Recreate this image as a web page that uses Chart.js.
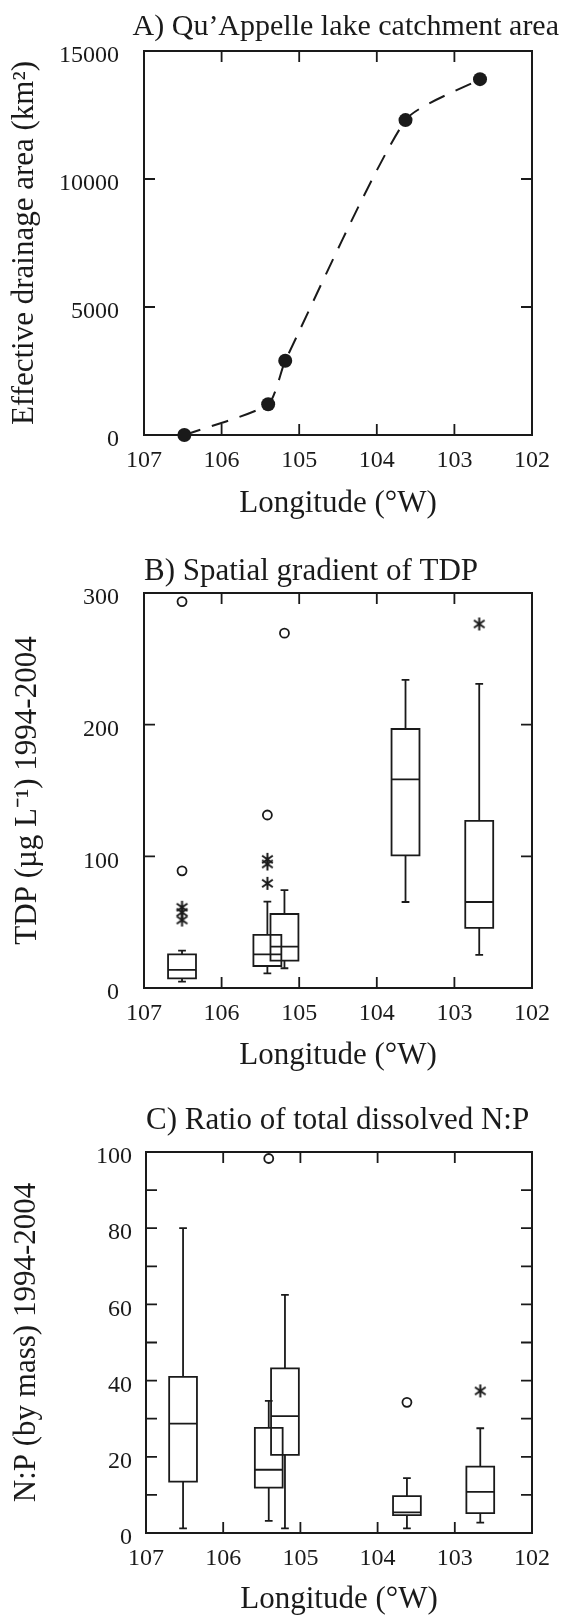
<!DOCTYPE html>
<html lang="en">
<head>
<meta charset="utf-8">
<title>Qu'Appelle lakes: catchment area, TDP and N:P</title>
<script src="https://cdn.jsdelivr.net/npm/chart.js@4.4.1/dist/chart.umd.min.js"></script>
<style>
  html, body { margin: 0; padding: 0; background: #fff; }
  #lienzo { position: relative; width: 561px; height: 1618px; overflow: hidden; }
  canvas { position: absolute; left: 0; }
</style>
</head>
<body>
<div id="lienzo">
  <canvas id="grafico-a" width="561" height="525" style="top:0"></canvas>
  <canvas id="grafico-b" width="561" height="560" style="top:525px"></canvas>
  <canvas id="grafico-c" width="561" height="533" style="top:1085px"></canvas>
</div>
<script>
// Datos (longitud en grados oeste)

// A) Área de drenaje efectiva por lago
const longitudA = [106.48, 105.40, 105.18, 103.63, 102.67];
const areaA = [0, 1200, 2900, 12300, 13900];

// B) TDP 1994-2004, una caja por lago
const longitudB = [106.51, 105.41, 105.19, 103.63, 102.68];
const tdpMin = [4.8, 11.1, 15.0, 65.3, 25.2];
const tdpQ1 = [7.3, 16.7, 20.8, 100.8, 45.7];
const tdpMediana = [13.7, 25.6, 31.4, 158.4, 65.3];
const tdpQ3 = [25.6, 40.3, 56.2, 196.7, 127.0];
const tdpMax = [28.4, 65.6, 74.4, 234.0, 231.0];
// valores atípicos lejanos (círculos) y cercanos (asteriscos)
const tdpLejanosX = [106.51, 106.51, 105.41, 105.19];
const tdpLejanosY = [293.5, 89, 131.4, 269.5];
const tdpCercanosX = [106.51, 106.51, 106.51, 105.41, 105.41, 105.41, 102.68];
const tdpCercanosY = [61.3, 57.5, 51.6, 97.7, 94.2, 79.5, 276.5];

// C) Razón N:P (por masa) 1994-2004
const longitudC = [106.52, 105.41, 105.20, 103.62, 102.67];
const npMin = [1.2, 3.2, 1.2, 1.2, 2.7];
const npQ1 = [13.5, 11.9, 20.5, 4.7, 5.2];
const npMediana = [28.7, 16.6, 30.7, 5.4, 10.8];
const npQ3 = [41.0, 27.6, 43.2, 9.7, 17.4];
const npMax = [80.0, 34.7, 62.5, 14.4, 27.5];
const npLejanosX = [105.41, 103.62];
const npLejanosY = [98.3, 34.3];
const npCercanosX = [102.67];
const npCercanosY = [37.3];

// Etiquetas de los ejes
const ticksLongitud = [107, 106, 105, 104, 103, 102];
const titulos = [
    "A) Qu\u2019Appelle lake catchment area",
    'B) Spatial gradient of TDP',
    'C) Ratio of total dissolved N:P'
];
const titulosY = [
    'Effective drainage area (km\u00B2)',
    'TDP (\u00B5g L\u207B\u00B9) 1994-2004',
    'N:P (by mass) 1994-2004'
];
const tituloX = 'Longitude (\u00B0W)';

const TINTA = '#1a1a1a';
const FUENTE = "'Liberation Serif', 'Times New Roman', serif";
const LARGO_MARCA = 11;

// Asterisco de seis brazos para los atípicos cercanos
function crearAsterisco(tam) {
    const c = document.createElement('canvas');
    c.width = tam;
    c.height = tam;
    const g = c.getContext('2d');
    const m = tam / 2;
    const r = tam / 2 - 1;
    g.strokeStyle = TINTA;
    g.lineWidth = 2;
    g.beginPath();
    [90, 35, 145].forEach(function(grados) {
        const t = grados * Math.PI / 180;
        g.moveTo(m + r * Math.cos(t), m - r * Math.sin(t));
        g.lineTo(m - r * Math.cos(t), m + r * Math.sin(t));
    });
    g.stroke();
    return c;
}

// Marco del gráfico con marcas hacia adentro en los cuatro lados
const marcoPlugin = {
    id: 'marco',
    afterDraw(chart) {
        const { ctx, chartArea: a, scales } = chart;
        ctx.save();
        ctx.strokeStyle = TINTA;
        ctx.lineWidth = 2;
        ctx.strokeRect(a.left, a.top, a.right - a.left, a.bottom - a.top);
        ctx.lineWidth = 1.8;
        ctx.beginPath();
        scales.x.ticks.forEach(function(t) {
            const px = scales.x.getPixelForValue(t.value);
            if (Math.abs(px - a.left) < 2 || Math.abs(px - a.right) < 2) return;
            ctx.moveTo(px, a.bottom);
            ctx.lineTo(px, a.bottom - LARGO_MARCA);
            ctx.moveTo(px, a.top);
            ctx.lineTo(px, a.top + LARGO_MARCA);
        });
        scales.y.ticks.forEach(function(t) {
            const py = scales.y.getPixelForValue(t.value);
            if (Math.abs(py - a.top) < 2 || Math.abs(py - a.bottom) < 2) return;
            ctx.moveTo(a.left, py);
            ctx.lineTo(a.left + LARGO_MARCA, py);
            ctx.moveTo(a.right, py);
            ctx.lineTo(a.right - LARGO_MARCA, py);
        });
        ctx.stroke();
        ctx.restore();
    }
};

// Diagramas de caja dibujados con las escalas del gráfico
function crearPluginCajas(longitud, minimo, q1, mediana, q3, maximo) {
    const MEDIO_ANCHO = 0.18;   // grados
    const MEDIO_TOPE = 0.05;    // grados
    return {
        id: 'cajas',
        afterDatasetsDraw(chart) {
            const { ctx, scales: { x, y } } = chart;
            ctx.save();
            ctx.strokeStyle = TINTA;
            ctx.lineWidth = 1.8;
            longitud.forEach(function(lon, i) {
                const cx = x.getPixelForValue(lon);
                const izq = x.getPixelForValue(lon + MEDIO_ANCHO);
                const der = x.getPixelForValue(lon - MEDIO_ANCHO);
                const tIzq = x.getPixelForValue(lon + MEDIO_TOPE);
                const tDer = x.getPixelForValue(lon - MEDIO_TOPE);
                const yMin = y.getPixelForValue(minimo[i]);
                const yQ1 = y.getPixelForValue(q1[i]);
                const yMed = y.getPixelForValue(mediana[i]);
                const yQ3 = y.getPixelForValue(q3[i]);
                const yMax = y.getPixelForValue(maximo[i]);
                ctx.beginPath();
                ctx.rect(izq, yQ3, der - izq, yQ1 - yQ3);
                ctx.moveTo(izq, yMed);
                ctx.lineTo(der, yMed);
                // bigotes
                ctx.moveTo(cx, yQ3);
                ctx.lineTo(cx, yMax);
                ctx.moveTo(tIzq, yMax);
                ctx.lineTo(tDer, yMax);
                ctx.moveTo(cx, yQ1);
                ctx.lineTo(cx, yMin);
                ctx.moveTo(tIzq, yMin);
                ctx.lineTo(tDer, yMin);
                ctx.stroke();
            });
            ctx.restore();
        }
    };
}

function puntos(xs, ys) {
    return xs.map(function(x, i) { return { x: x, y: ys[i] }; });
}

// Configuración común de ejes
function crearEjes(cfg) {
    const ejes = {
        x: {
            type: 'linear',
            reverse: true,
            min: 102,
            max: 107,
            afterFit: function(s) { s.height = cfg.altoX; },
            afterBuildTicks: function(s) { s.ticks = ticksLongitud.map(function(v) { return { value: v }; }); },
            grid: { display: false, drawTicks: false },
            border: { display: false },
            ticks: {
                autoSkip: false,
                maxRotation: 0,
                padding: 11,
                color: TINTA,
                font: { family: FUENTE, size: 24 },
                callback: function(v) { return String(v); }
            },
            title: {
                display: true,
                text: tituloX,
                color: TINTA,
                font: { family: FUENTE, size: 31 },
                padding: { top: 0, bottom: cfg.padTituloX }
            }
        },
        y: {
            type: 'linear',
            min: cfg.yMin,
            max: cfg.yMax,
            afterFit: function(s) { s.width = cfg.anchoY; },
            grid: { display: false, drawTicks: false },
            border: { display: false },
            ticks: {
                stepSize: cfg.paso,
                autoSkip: false,
                padding: cfg.padTicksY,
                labelOffset: 5,
                color: TINTA,
                font: { family: FUENTE, size: 24 },
                callback: cfg.etiqueta
            },
            title: {
                display: true,
                text: cfg.tituloY,
                color: TINTA,
                font: { family: FUENTE, size: 31 },
                padding: { top: cfg.padTituloY, bottom: 0 }
            }
        }
    };
    // Eje vacío a la derecha: reserva margen sin recortar el título
    if (cfg.margenDerecho) {
        ejes.margen = {
            type: 'linear',
            position: 'right',
            grid: { display: false, drawTicks: false },
            border: { display: false },
            ticks: { display: false },
            afterFit: function(s) { s.width = cfg.margenDerecho; }
        };
    }
    return ejes;
}

function opcionesBase(cfg) {
    return {
        responsive: false,
        animation: false,
        devicePixelRatio: 1,
        layout: { padding: { left: 0, right: cfg.derecha, top: 0, bottom: 0 } },
        plugins: {
            legend: { display: false },
            tooltip: { enabled: false },
            title: {
                display: true,
                fullSize: cfg.tituloCompleto,
                align: cfg.alinear,
                text: cfg.titulo,
                color: TINTA,
                font: { family: FUENTE, size: cfg.tamTitulo, weight: 'normal', lineHeight: 1.2 },
                padding: { top: cfg.padTitulo[0], bottom: cfg.padTitulo[1] }
            }
        },
        scales: crearEjes(cfg)
    };
}

document.addEventListener('DOMContentLoaded', function() {
    const asterisco = crearAsterisco(15);

    // Gráfico A: curva discontinua con puntos rellenos
    new Chart(document.getElementById('grafico-a'), {
        type: 'line',
        data: {
            datasets: [{
                data: puntos(longitudA, areaA),
                borderColor: TINTA,
                borderWidth: 2,
                borderDash: [17, 12],
                tension: 0.2,
                pointRadius: 7,
                pointBackgroundColor: TINTA,
                pointBorderWidth: 0,
                clip: false
            }]
        },
        options: opcionesBase({
            titulo: titulos[0], tamTitulo: 30, alinear: 'end', tituloCompleto: true,
            padTitulo: [9, 6], derecha: 2, margenDerecho: 26,
            altoX: 90, padTituloX: 3,
            yMin: 0, yMax: 15000, paso: 5000, anchoY: 144, padTicksY: 25, padTituloY: 6,
            tituloY: titulosY[0],
            etiqueta: function(v) { return String(v); }
        }),
        plugins: [marcoPlugin]
    });

    // Conjuntos de atípicos para B y C
    function atipicos(lejX, lejY, cerX, cerY) {
        return [
            {
                data: puntos(lejX, lejY),
                pointStyle: 'circle',
                pointRadius: 4.5,
                pointBorderWidth: 1.8,
                pointBorderColor: TINTA,
                pointBackgroundColor: '#fff',
                showLine: false,
                clip: false
            },
            {
                data: puntos(cerX, cerY),
                pointStyle: asterisco,
                pointRadius: 7,
                showLine: false,
                clip: false
            }
        ];
    }

    // Gráfico B: TDP
    new Chart(document.getElementById('grafico-b'), {
        type: 'scatter',
        data: { datasets: atipicos(tdpLejanosX, tdpLejanosY, tdpCercanosX, tdpCercanosY) },
        options: opcionesBase({
            titulo: titulos[1], tamTitulo: 31, alinear: 'start', tituloCompleto: false,
            padTitulo: [28, 2.8], derecha: 21,
            altoX: 97, padTituloX: 11,
            yMin: 0, yMax: 300, paso: 100, anchoY: 144, padTicksY: 25, padTituloY: 9,
            tituloY: titulosY[1],
            etiqueta: function(v) { return String(v); }
        }),
        plugins: [crearPluginCajas(longitudB, tdpMin, tdpQ1, tdpMediana, tdpQ3, tdpMax), marcoPlugin]
    });

    // Gráfico C: N:P
    new Chart(document.getElementById('grafico-c'), {
        type: 'scatter',
        data: { datasets: atipicos(npLejanosX, npLejanosY, npCercanosX, npCercanosY) },
        options: opcionesBase({
            titulo: titulos[2], tamTitulo: 31, alinear: 'start', tituloCompleto: false,
            padTitulo: [17, 12.8], derecha: 23,
            altoX: 85, padTituloX: 0,
            yMin: 0, yMax: 100, paso: 10, anchoY: 146, padTicksY: 14, padTituloY: 8,
            tituloY: titulosY[2],
            etiqueta: function(v) { return v % 20 === 0 ? String(v) : ''; }
        }),
        plugins: [crearPluginCajas(longitudC, npMin, npQ1, npMediana, npQ3, npMax), marcoPlugin]
    });
});
</script>
</body>
</html>
